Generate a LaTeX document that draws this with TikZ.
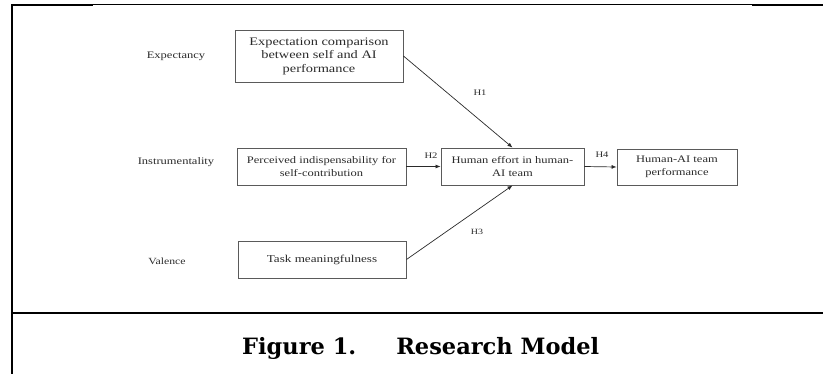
\documentclass[tikz,border=0pt]{standalone}
\usepackage{fontspec}
\setmainfont{Liberation Serif}[FakeStretch=1.25]
\newfontfamily\capfont{DejaVu Serif}
\usetikzlibrary{arrows.meta}
\definecolor{boxgray}{HTML}{5A5A5A}
\definecolor{inkgray}{HTML}{2A2A2A}
\tikzset{
  construct/.style={draw=boxgray, line width=0.9pt, align=center, text=inkgray,
    inner sep=0pt, font=\fontsize{10}{12.5}\selectfont},
  factor/.style={text=inkgray, inner sep=0pt, font=\fontsize{10}{12}\selectfont},
  hyp/.style={text=inkgray, inner sep=0pt, font=\fontsize{8.5}{10}\selectfont},
  path/.style={draw=inkgray, line width=0.7pt, -{Latex[length=5pt,width=4pt]}},
  frame/.style={line width=2pt, line cap=rect}
}
\begin{document}
\begin{tikzpicture}[x=1pt, y=-1pt]
		%%%%% START %%%%%
		\useasboundingbox (0, 0) rectangle (823, 373);
		
		% table frame
		\draw[line width=1.2pt] (11.5, 4.5) -- (823, 4.5);
		\draw[frame] (11.5, 4.5) -- (92, 4.5);
		\draw[frame] (753, 5) -- (823, 5);
		\draw[frame] (11.5, 4.5) -- (11.5, 373);
		\draw[frame] (11.5, 313) -- (823, 313);
		
		% expectancy theory factors
		\node[factor] (expect) at (176, 56) {Expectancy};
		\node[factor] (instr) at (176, 162) {Instrumentality};
		\node[factor, font=\fontsize{9.4}{11}\selectfont] (valence) at (167, 261) {Valence};
		
		% constructs
		\node[construct, minimum width=168pt, minimum height=52pt,
		  font=\fontsize{11.5}{13.5}\selectfont] (compare) at (319, 56)
		  {Expectation comparison\\between self and AI\\performance};
		\node[construct, minimum width=169pt, minimum height=37pt] (indisp) at (321.5, 166.5)
		  {Perceived indispensability for\\self-contribution};
		\node[construct, minimum width=168pt, minimum height=37pt,
		  font=\fontsize{10.5}{12}\selectfont] (meaning) at (322, 259.5)
		  {Task meaningfulness};
		\node[construct, minimum width=143pt, minimum height=37pt] (effort) at (512.5, 166.5)
		  {Human effort in human-\\AI team};
		\node[construct, minimum width=120pt, minimum height=36pt] (perform) at (677, 167)
		  {Human-AI team\\performance};
		
		% hypotheses
		\draw[path] (compare.east) -- (effort.north);
		\draw[path] (indisp.east) -- (effort.west);
		\draw[path] (meaning.east) -- (effort.south);
		\draw[path] (effort.east) -- (perform.west);
		
		\node[hyp] (h1) at (480, 93) {H1};
		\node[hyp] (h2) at (431, 156) {H2};
		\node[hyp, font=\fontsize{8}{10}\selectfont] (h3) at (477, 232) {H3};
		\node[hyp] (h4) at (602, 155) {H4};
		
		% caption
		\node[anchor=base west, inner sep=0pt, font=\capfont\bfseries\fontsize{22.5}{26}\selectfont]
		  (caption) at (242, 354) {Figure 1.\hspace{40pt}Research Model};
		
		%%%%% END %%%%%
	\end{tikzpicture}
\end{document}
